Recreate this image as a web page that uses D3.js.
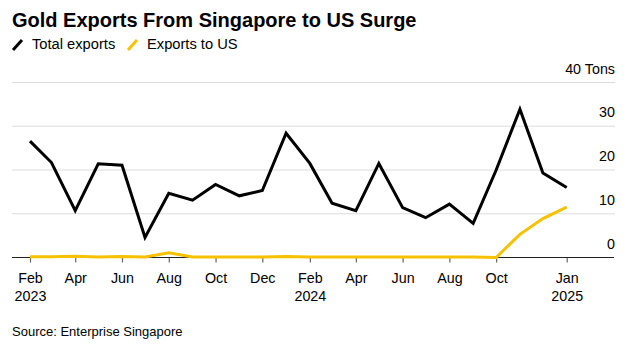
<!DOCTYPE html>
<html>
<head>
<meta charset="utf-8">
<script src="https://cdn.jsdelivr.net/npm/d3@7"></script>
<style>
  html, body { margin: 0; padding: 0; background: #fff; }
  svg { display: block; font-family: "Liberation Sans", Arial, sans-serif; }
</style>
</head>
<body>
<svg id="chart" width="631" height="348"></svg>
<script>
// Monthly gold exports, tons (Feb 2023 – Jan 2025)
const months = ["2023-02","2023-03","2023-04","2023-05","2023-06","2023-07","2023-08","2023-09","2023-10","2023-11","2023-12",
                "2024-01","2024-02","2024-03","2024-04","2024-05","2024-06","2024-07","2024-08","2024-09","2024-10","2024-11","2024-12",
                "2025-01"];
const totalExports = [26.6, 21.7, 10.7, 21.4, 21.1, 4.6, 14.7, 13.1, 16.7, 14.1, 15.3,
                      28.4, 21.5, 12.4, 10.7, 21.5, 11.4, 9.1, 12.2, 7.8, 20.0, 33.9, 19.3,
                      16.0];
const exportsToUS = [0.2, 0.2, 0.3, 0.1, 0.2, 0.1, 1.1, 0.1, 0.1, 0.1, 0.1,
                     0.2, 0.1, 0.1, 0.1, 0.1, 0.1, 0.1, 0.1, 0.1, 0.0, 5.3, 8.9,
                     11.5];
const tickMonths = ["2023-02","2023-04","2023-06","2023-08","2023-10","2023-12","2024-02","2024-04","2024-06","2024-08","2024-10","2025-01"];
const tickLabels = [["Feb","2023"],["Apr"],["Jun"],["Aug"],["Oct"],["Dec"],["Feb","2024"],["Apr"],["Jun"],["Aug"],["Oct"],["Jan","2025"]];
const yTicks = [0, 10, 20, 30, 40];
const seriesNames = ["Total exports", "Exports to US"];
const seriesColors = ["#000000", "#f6c200"];

const parseMonth = d3.timeParse("%Y-%m");
const dates = months.map(parseMonth);

const svg = d3.select("#chart");

const x = d3.scaleTime()
  .domain([parseMonth("2023-02"), parseMonth("2025-01")])
  .range([30, 566.7]);
const y = d3.scaleLinear().domain([0, 40]).range([257.5, 82.5]);

const gridLeft = 12, gridRight = 615;

// Title
svg.append("text")
  .attr("x", 12).attr("y", 27)
  .attr("font-size", 20).attr("font-weight", 700)
  .attr("fill", "#000")
  .text("Gold Exports From Singapore to US Surge");

// Legend
const legend = svg.append("g");
const legendX = [12, 127];
seriesNames.forEach((name, i) => {
  legend.append("line")
    .attr("x1", legendX[i] + 1).attr("y1", 50)
    .attr("x2", legendX[i] + 10).attr("y2", 40)
    .attr("stroke", seriesColors[i]).attr("stroke-width", 3)
    .attr("stroke-linecap", "butt");
  legend.append("text")
    .attr("x", legendX[i] + 20).attr("y", 49)
    .attr("font-size", 14.7).attr("fill", "#000")
    .text(name);
});

// Gridlines and right-hand labels
const grid = svg.append("g");
yTicks.filter(t => t > 0).forEach(t => {
  grid.append("line")
    .attr("x1", gridLeft).attr("x2", gridRight)
    .attr("y1", y(t)).attr("y2", y(t))
    .attr("stroke", "#dcdcdc").attr("stroke-width", 1.2);
});
yTicks.forEach(t => {
  grid.append("text")
    .attr("x", gridRight).attr("y", y(t) - 9)
    .attr("text-anchor", "end")
    .attr("font-size", 14.3).attr("fill", "#000")
    .text(t === 40 ? "40 Tons" : t);
});

// X axis with month ticks
const tickDates = tickMonths.map(parseMonth);
const xAxis = d3.axisBottom(x)
  .tickValues(tickDates)
  .tickSize(5)
  .tickFormat("");
const axisG = svg.append("g")
  .attr("transform", `translate(0,${y(0)})`)
  .call(xAxis);
axisG.select(".domain").remove();
axisG.selectAll(".tick line").attr("stroke", "#666").attr("stroke-width", 1.2);

axisG.selectAll(".tick").each(function(d, i) {
  const t = d3.select(this).append("text")
    .attr("fill", "#000").attr("font-size", 14.3)
    .attr("text-anchor", "middle")
    .attr("font-family", "Liberation Sans, Arial, sans-serif");
  tickLabels[i].forEach((s, j) => {
    t.append("tspan").attr("x", 0).attr("y", 25 + j * 18).text(s);
  });
});

// Zero baseline
svg.append("line")
  .attr("x1", gridLeft).attr("x2", gridRight - 1)
  .attr("y1", y(0)).attr("y2", y(0))
  .attr("stroke", "#222").attr("stroke-width", 1.2);

// Series lines
const line = d3.line()
  .x((d, i) => x(dates[i]))
  .y(d => y(d));

[totalExports, exportsToUS].forEach((vals, i) => {
  svg.append("path")
    .datum(vals)
    .attr("d", line)
    .attr("fill", "none")
    .attr("stroke", seriesColors[i])
    .attr("stroke-width", 3)
    .attr("stroke-linejoin", "miter")
    .attr("stroke-linecap", "butt");
});

// Source note
svg.append("text")
  .attr("x", 12).attr("y", 336)
  .attr("font-size", 13).attr("fill", "#000")
  .text("Source: Enterprise Singapore");
</script>
</body>
</html>
